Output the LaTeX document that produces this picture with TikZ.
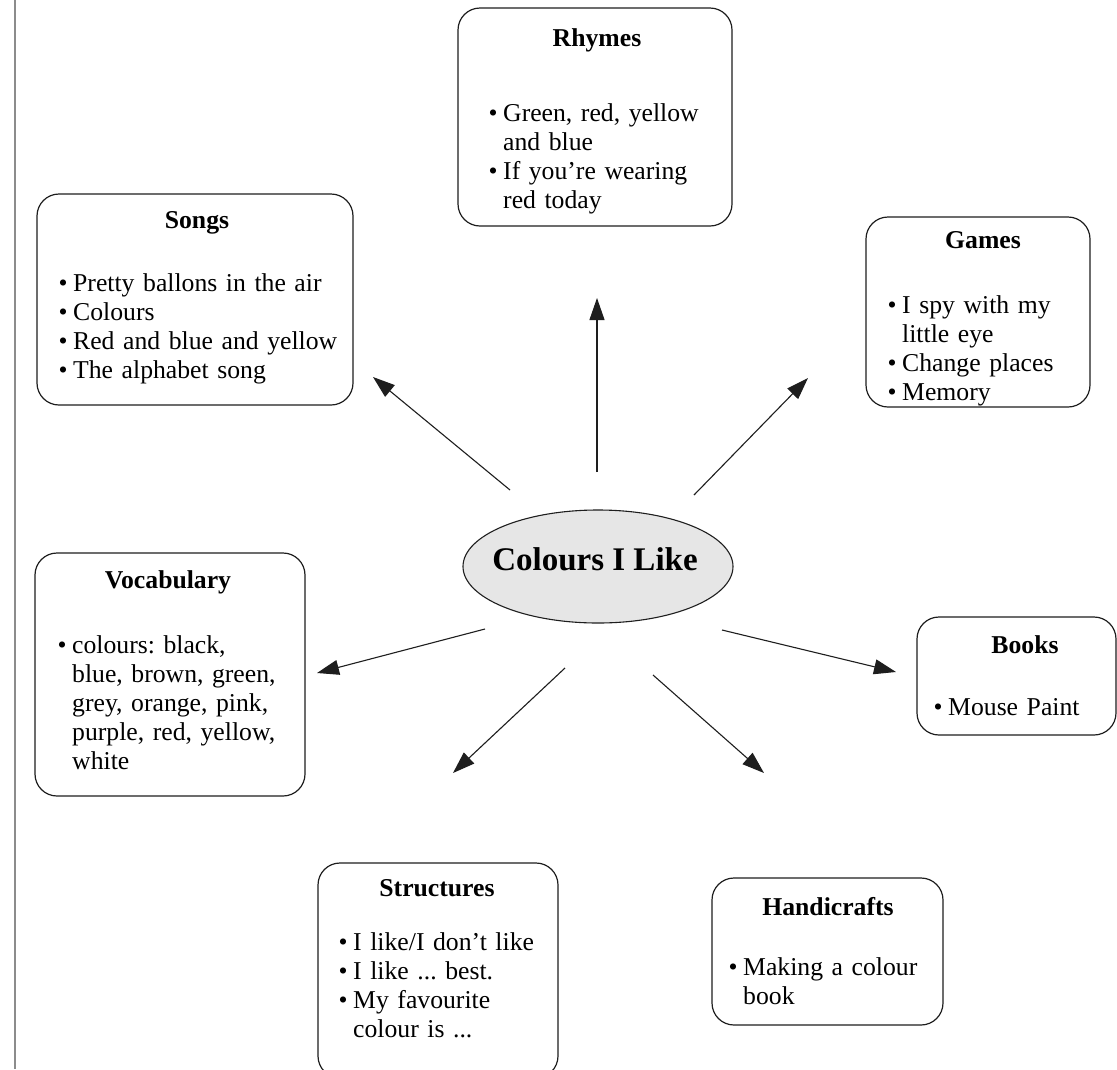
\documentclass[tikz,border=0pt]{standalone}
\usepackage{fontspec}
\setmainfont{Liberation Serif}
\usetikzlibrary{shapes.geometric,arrows.meta}
\frenchspacing
\newcommand{\bitem}[1]{\par\hangindent=14.5pt\hangafter=1\noindent\makebox[14.5pt][l]{\textbullet}\vrule height 22pt depth 0pt width 0pt#1\par}
\definecolor{ellfill}{HTML}{E6E6E6}
\definecolor{linecol}{HTML}{1E1E1E}
\tikzset{
  box/.style={draw=linecol, line width=1.2pt, rounded corners=22pt, inner sep=0pt},
  body/.style={anchor=north west, inner sep=0pt, text width=330pt, align=left, font=\fontsize{25.7}{29}\selectfont\frenchspacing},
  ttl/.style={anchor=base, inner sep=0pt, font=\fontsize{25.7}{29}\selectfont\bfseries},
  arr/.style={draw=linecol, line width=1.1pt, -{Triangle[length=22pt,width=15pt]}}
}
\begin{document}
\begin{tikzpicture}[x=1pt,y=-1pt]
\useasboundingbox (0,0) rectangle (1117,1069);
\fill[white] (0,0) rectangle (1117,1069);
% left margin rule
\draw[draw=gray!90, line width=2pt] (15,0) -- (15,1069);

% central ellipse
\node[ellipse, draw=linecol, line width=1.1pt, fill=ellfill, minimum width=270pt, minimum height=113pt, inner sep=0pt] (hub) at (598,566.5) {};
\node[anchor=base, inner sep=0pt, font=\fontsize{33}{36}\selectfont\bfseries] (hubT) at (595,570) {Colours I Like};

% boxes
\node[box, minimum width=274pt, minimum height=218pt] (rhymes) at (595,117) {};
\node[box, minimum width=316pt, minimum height=211pt] (songs) at (195,299.5) {};
\node[box, minimum width=224pt, minimum height=190pt] (games) at (978,312) {};
\node[box, minimum width=270pt, minimum height=243pt] (vocab) at (170,674.5) {};
\node[box, minimum width=199pt, minimum height=118pt] (books) at (1016.5,676) {};
\node[box, minimum width=240pt, minimum height=215pt] (struct) at (438,970.5) {};
\node[box, minimum width=231pt, minimum height=147pt] (handi) at (827.5,951.5) {};

% titles
\node[ttl] (rhymesT) at (597,46) {Rhymes};
\node[ttl] (songsT) at (197,228) {Songs};
\node[ttl] (gamesT) at (983,248) {Games};
\node[ttl] (vocabT) at (168,588) {Vocabulary};
\node[ttl] (booksT) at (1025,653) {Books};
\node[ttl] (structT) at (437,896) {Structures};
\node[ttl] (handiT) at (828,915) {Handicrafts};

% bodies
\node[body] (rhymesB) at (488.5,92) {\bitem{Green, red, yellow\newline and blue}\bitem{If you’re wearing\newline red today}};
\node[body] (songsB) at (58.5,262) {\bitem{Pretty ballons in the air}\bitem{Colours}\bitem{Red and blue and yellow}\bitem{The alphabet song}};
\node[body] (gamesB) at (887.5,284) {\bitem{I spy with my\newline little eye}\bitem{Change places}\bitem{Memory}};
\node[body] (vocabB) at (57.5,624) {\bitem{colours: black,\newline blue, brown, green,\newline grey, orange, pink,\newline purple, red, yellow,\newline white}};
\node[body] (booksB) at (933.5,686) {\bitem{Mouse Paint}};
\node[body] (structB) at (338.5,921) {\bitem{I like/I don’t like}\bitem{I like ... best.}\bitem{My favourite\newline colour is ...}};
\node[body] (handiB) at (728.5,946) {\bitem{Making a colour\newline book}};

% arrow end points
\coordinate (aUs) at (597,472);   \coordinate (aUe) at (597,298);
\coordinate (aSs) at (510,490);   \coordinate (aSe) at (373,377);
\coordinate (aGs) at (694,495);   \coordinate (aGe) at (808,378);
\coordinate (aVs) at (485,629);   \coordinate (aVe) at (317,673);
\coordinate (aBs) at (722,630);   \coordinate (aBe) at (896,672);
\coordinate (aTs) at (565,668);   \coordinate (aTe) at (453,773);
\coordinate (aHs) at (653,675);   \coordinate (aHe) at (764,773);

\draw[arr] (aUs) -- (aUe);
\draw[arr] (aSs) -- (aSe);
\draw[arr] (aGs) -- (aGe);
\draw[arr] (aVs) -- (aVe);
\draw[arr] (aBs) -- (aBe);
\draw[arr] (aTs) -- (aTe);
\draw[arr] (aHs) -- (aHe);
\end{tikzpicture}
\end{document}
